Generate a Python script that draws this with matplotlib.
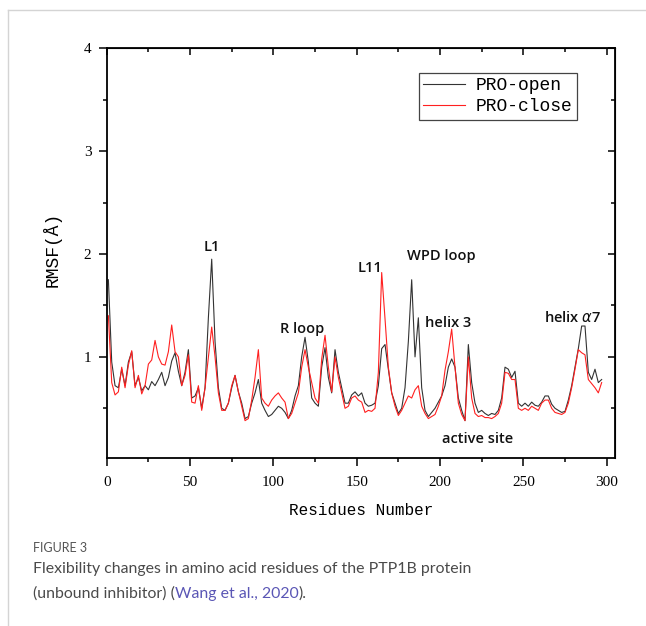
import matplotlib
matplotlib.use('Agg')
import matplotlib.pyplot as plt
from matplotlib.lines import Line2D
from matplotlib.ticker import MultipleLocator
import numpy as np

# residue index (every second residue)
residues = np.arange(1, 299, 2)

pro_open = [
    1.75, 0.95, 0.72, 0.70, 0.88, 0.72, 0.95, 1.05, 0.72, 0.80,
    0.67, 0.72, 0.68, 0.76, 0.72, 0.78, 0.85, 0.72, 0.80, 0.96,
    1.04, 0.86, 0.72, 0.85, 1.07, 0.60, 0.62, 0.70, 0.50, 0.70,
    1.38, 1.95, 1.15, 0.70, 0.50, 0.48, 0.55, 0.70, 0.82, 0.66,
    0.55, 0.40, 0.42, 0.55, 0.65, 0.78, 0.55, 0.48, 0.42, 0.44,
    0.48, 0.52, 0.50, 0.46, 0.40, 0.48, 0.62, 0.72, 1.00, 1.19,
    0.95, 0.60, 0.55, 0.52, 0.90, 1.09, 0.80, 0.65, 1.07, 0.85,
    0.70, 0.55, 0.55, 0.63, 0.66, 0.62, 0.65, 0.55, 0.52, 0.53,
    0.55, 0.72, 1.08, 1.12, 0.88, 0.65, 0.55, 0.45, 0.50, 0.70,
    1.15, 1.75, 1.00, 1.38, 0.70, 0.48, 0.42, 0.46, 0.50, 0.56,
    0.62, 0.72, 0.90, 0.98, 0.90, 0.60, 0.48, 0.38, 1.12, 0.75,
    0.55, 0.46, 0.48, 0.45, 0.43, 0.45, 0.44, 0.48, 0.60, 0.90,
    0.88, 0.80, 0.86, 0.55, 0.52, 0.55, 0.52, 0.56, 0.53, 0.52,
    0.56, 0.62, 0.62, 0.54, 0.50, 0.48, 0.46, 0.47, 0.58, 0.72,
    0.90, 1.08, 1.30, 1.30, 0.85, 0.78, 0.88, 0.75, 0.78,
]

pro_close = [
    1.40, 0.75, 0.63, 0.66, 0.90, 0.70, 0.92, 1.06, 0.70, 0.82,
    0.64, 0.72, 0.93, 0.97, 1.16, 1.00, 0.93, 0.92, 1.05, 1.31,
    1.05, 1.00, 0.72, 0.82, 1.02, 0.56, 0.55, 0.72, 0.48, 0.70,
    1.00, 1.29, 1.00, 0.65, 0.48, 0.48, 0.55, 0.72, 0.82, 0.66,
    0.52, 0.38, 0.40, 0.58, 0.80, 1.07, 0.60, 0.55, 0.52, 0.58,
    0.62, 0.65, 0.60, 0.56, 0.40, 0.45, 0.55, 0.65, 0.90, 1.07,
    0.90, 0.75, 0.60, 0.55, 0.98, 1.21, 0.90, 0.66, 1.00, 0.80,
    0.65, 0.50, 0.52, 0.60, 0.62, 0.58, 0.56, 0.46, 0.48, 0.47,
    0.50, 0.85, 1.82, 1.37, 0.90, 0.65, 0.52, 0.43, 0.48, 0.55,
    0.62, 0.60, 0.68, 0.72, 0.52, 0.45, 0.40, 0.42, 0.44, 0.52,
    0.62, 0.87, 1.05, 1.27, 0.90, 0.55, 0.44, 0.38, 1.00, 0.60,
    0.45, 0.42, 0.43, 0.41, 0.41, 0.40, 0.42, 0.45, 0.55, 0.85,
    0.84, 0.78, 0.78, 0.50, 0.48, 0.50, 0.48, 0.52, 0.50, 0.48,
    0.55, 0.58, 0.58, 0.50, 0.46, 0.45, 0.44, 0.46, 0.55, 0.70,
    0.88, 1.07, 1.04, 1.02, 0.78, 0.74, 0.70, 0.65, 0.75,
]

# region labels: text, x, y
regions = [
    ("L1", 63, 2.07),
    ("R loop", 117.5, 1.27),
    ("L11", 158, 1.86),
    ("WPD loop", 200.5, 1.98),
    ("helix 3", 205, 1.33),
    ("helix $\\alpha$7", 279.5, 1.38),
    ("active site", 222.5, 0.20),
]

mono = 'Liberation Mono'
serif = 'Liberation Serif'

fig = plt.figure(figsize=(6.46, 6.26), dpi=100)
ax = fig.add_axes([0.1652, 0.2689, 0.7868, 0.6539])

ax.plot(residues, pro_open, color='#333333', lw=0.8, label='PRO-open')
ax.plot(residues, pro_close, color='#ff2020', lw=0.8, label='PRO-close')

ax.set_xlim(0, 305)
ax.set_ylim(0.02, 4.0)
ax.set_xticks([0, 50, 100, 150, 200, 250, 300])
ax.xaxis.set_minor_locator(MultipleLocator(25))
ax.set_yticks([1, 2, 3, 4])
ax.yaxis.set_minor_locator(MultipleLocator(0.5))

for s in ax.spines.values():
    s.set_linewidth(1.3)
ax.tick_params(which='both', direction='out', top=False, right=False, width=1.1)
ax.tick_params(which='major', length=6, labelsize=11)
ax.tick_params(axis='x', which='major', pad=7)
ax.tick_params(axis='y', which='major', pad=5)
ax.tick_params(which='minor', length=3)
for lab in ax.get_xticklabels() + ax.get_yticklabels():
    lab.set_fontfamily(serif)

# mirrored inward ticks on top and right
axt = ax.secondary_xaxis('top')
axt.set_xticks([0, 50, 100, 150, 200, 250, 300])
axt.xaxis.set_minor_locator(MultipleLocator(25))
axt.tick_params(which='both', direction='in', labeltop=False, width=1.1)
axt.tick_params(which='major', length=5)
axt.tick_params(which='minor', length=3)
axr = ax.secondary_yaxis('right')
axr.set_yticks([1, 2, 3, 4])
axr.yaxis.set_minor_locator(MultipleLocator(0.5))
axr.tick_params(which='both', direction='in', labelright=False, width=1.1)
axr.tick_params(which='major', length=5)
axr.tick_params(which='minor', length=3)

ax.set_xlabel('Residues Number', fontfamily=mono, fontsize=11.5, labelpad=10)
ax.set_ylabel('RMSF(\u00c5)', fontfamily=mono, fontsize=13)
ax.yaxis.set_label_coords(-0.088, 0.51)

leg = ax.legend(loc='upper right', bbox_to_anchor=(0.925, 0.94), borderaxespad=0,
                prop={'family': mono, 'size': 13}, handlelength=2.3,
                handletextpad=0.6, labelspacing=0.2, borderpad=0.25,
                fancybox=False, framealpha=1)
leg.get_frame().set_edgecolor('#444444')
leg.get_frame().set_linewidth(0.9)

for txt, x, y in regions:
    ax.text(x, y, txt, ha='center', va='center', fontsize=10.5,
            fontfamily='Open Sans', fontweight='semibold', color='#111111')

# card border
fig.add_artist(Line2D([8 / 646, 1], [1 - 10 / 626, 1 - 10 / 626],
                      color='#d4d4d4', lw=1))
fig.add_artist(Line2D([8 / 646, 8 / 646], [0, 1 - 10 / 626],
                      color='#d4d4d4', lw=1))

# caption
cap_col = '#4a4a4a'
fig.text(33 / 646, 1 - 548 / 626, 'FIGURE 3', fontsize=9, fontfamily='Lato',
         color='#555555', va='center')
fig.text(33 / 646, 1 - 569 / 626,
         'Flexibility changes in amino acid residues of the PTP1B protein',
         fontsize=11.4, fontfamily='Lato', color=cap_col, va='center')
renderer = fig.canvas.get_renderer()
t1 = fig.text(33 / 646, 1 - 594 / 626, '(unbound inhibitor) (', fontsize=11.4,
              fontfamily='Lato', color=cap_col, va='center')
bb = t1.get_window_extent(renderer).transformed(fig.transFigure.inverted())
t2 = fig.text(bb.x1, 1 - 594 / 626, 'Wang et al., 2020', fontsize=11.4,
              fontfamily='Lato', color='#5a56b5', va='center')
bb = t2.get_window_extent(renderer).transformed(fig.transFigure.inverted())
fig.text(bb.x1, 1 - 594 / 626, ').', fontsize=11.4, fontfamily='Lato',
         color=cap_col, va='center')

fig.savefig('out.png', dpi=100)
